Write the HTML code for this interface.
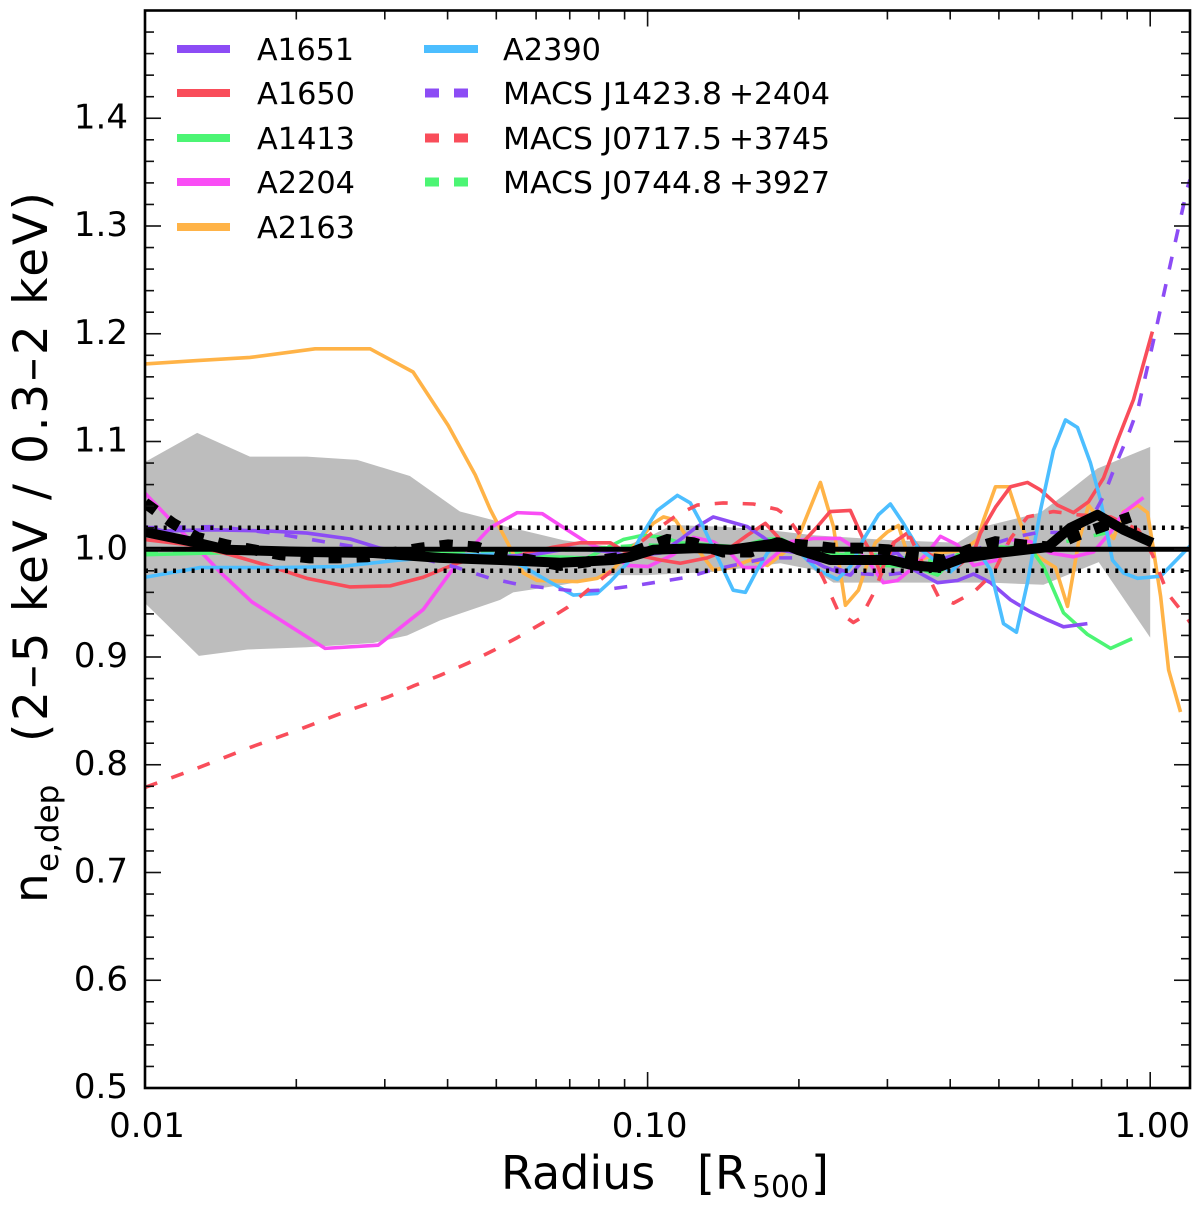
<!DOCTYPE html>
<html>
<head>
<meta charset="utf-8">
<title>Electron density deprojection ratio</title>
<style>
html,body{margin:0;padding:0;background:#fff;}
svg{display:block;}
text{font-family:"DejaVu Sans","Liberation Sans",sans-serif;fill:#000;}
</style>
</head>
<body>
<svg id="chart" xmlns="http://www.w3.org/2000/svg" width="1200" height="1211" viewBox="0 0 1200 1211">
<defs><clipPath id="plot-clip"><rect x="145" y="10.5" width="1045" height="1077.5"/></clipPath></defs>
<g id="band-layer" clip-path="url(#plot-clip)"></g>
<g id="series-layer" clip-path="url(#plot-clip)"></g>
<g id="reference-layer" clip-path="url(#plot-clip)"></g>
<g id="mean-layer" clip-path="url(#plot-clip)"></g>
<g id="tick-layer"></g>
<g id="label-layer"></g>
<rect x="145" y="10.5" width="1045" height="1077.5" fill="none" stroke="#000" stroke-width="2.6"/>

<g>
<g><line x1="177" x2="230" y1="49" y2="49" stroke="#8c4cf5" stroke-width="8"/><text x="257" y="60" font-size="30" textLength="97" lengthAdjust="spacingAndGlyphs">A1651</text></g>
<g><line x1="177" x2="230" y1="93" y2="93" stroke="#f94d5a" stroke-width="8"/><text x="257" y="104" font-size="30" textLength="98" lengthAdjust="spacingAndGlyphs">A1650</text></g>
<g><line x1="177" x2="230" y1="138" y2="138" stroke="#4cf574" stroke-width="8"/><text x="257" y="149" font-size="30" textLength="98" lengthAdjust="spacingAndGlyphs">A1413</text></g>
<g><line x1="177" x2="230" y1="182" y2="182" stroke="#f94df5" stroke-width="8"/><text x="257" y="193" font-size="30" textLength="98" lengthAdjust="spacingAndGlyphs">A2204</text></g>
<g><line x1="177" x2="230" y1="227" y2="227" stroke="#ffb347" stroke-width="8"/><text x="257" y="238" font-size="30" textLength="98" lengthAdjust="spacingAndGlyphs">A2163</text></g>
<g><line x1="424" x2="478" y1="49" y2="49" stroke="#4cbeff" stroke-width="8"/><text x="503" y="60" font-size="30" textLength="98" lengthAdjust="spacingAndGlyphs">A2390</text></g>
<g><line x1="425" x2="468" y1="93" y2="93" stroke="#8c4cf5" stroke-width="9" stroke-dasharray="14 15"/><text x="503" y="104" font-size="30" textLength="219" lengthAdjust="spacingAndGlyphs">MACS J1423.8</text><text x="729" y="104" font-size="30" textLength="101" lengthAdjust="spacingAndGlyphs">+2404</text></g>
<g><line x1="425" x2="468" y1="138" y2="138" stroke="#f94d5a" stroke-width="9" stroke-dasharray="14 15"/><text x="503" y="149" font-size="30" textLength="219" lengthAdjust="spacingAndGlyphs">MACS J0717.5</text><text x="729" y="149" font-size="30" textLength="101" lengthAdjust="spacingAndGlyphs">+3745</text></g>
<g><line x1="425" x2="468" y1="182" y2="182" stroke="#4cf574" stroke-width="9" stroke-dasharray="14 15"/><text x="503" y="193" font-size="30" textLength="219" lengthAdjust="spacingAndGlyphs">MACS J0744.8</text><text x="729" y="193" font-size="30" textLength="101" lengthAdjust="spacingAndGlyphs">+3927</text></g>
</g>

<g>
<text x="501" y="1189" font-size="46">Radius</text>
<text x="697" y="1189" font-size="46">[R</text>
<text x="752" y="1197" font-size="30" textLength="57" lengthAdjust="spacingAndGlyphs">500</text>
<text x="811" y="1189" font-size="46">]</text>
</g>
<g>
<text transform="translate(47,903) rotate(-90)" font-size="47">n</text>
<text transform="translate(58,872) rotate(-90)" font-size="31">e,dep</text>
<text transform="translate(47,742) rotate(-90)" font-size="47" textLength="550" lengthAdjust="spacing">(2–5 keV / 0.3–2 keV)</text>
</g>
</svg>

<script>
// Axis domains
const xDomain = [0.01, 1.2];
const yDomain = [0.5, 1.5];
// Tick labels
const xMajorTicks = [0.01, 0.1, 1];
const xMajorLabels = ["0.01", "0.10", "1.00"];
const xMinorTicks = [0.02, 0.03, 0.04, 0.05, 0.06, 0.07, 0.08, 0.09, 0.2, 0.3, 0.4, 0.5, 0.6, 0.7, 0.8, 0.9];
const yMajorTicks = [0.5, 0.6, 0.7, 0.8, 0.9, 1.0, 1.1, 1.2, 1.3, 1.4];
const yMajorLabels = ["0.5", "0.6", "0.7", "0.8", "0.9", "1.0", "1.1", "1.2", "1.3", "1.4"];
const yMinorTicks = [0.52,0.54,0.56,0.58,0.62,0.64,0.66,0.68,0.72,0.74,0.76,0.78,0.82,0.84,0.86,0.88,0.92,0.94,0.96,0.98,1.02,1.04,1.06,1.08,1.12,1.14,1.16,1.18,1.22,1.24,1.26,1.28,1.32,1.34,1.36,1.38,1.42,1.44,1.46,1.48];
// Reference levels
const unityLevel = 1.0;
const toleranceLevels = [1.02, 0.98];

// Scatter band
const bandUpperR = [.01,.0127,.01617,.021,.02642,.03365,.04233,.0493,.0509,.06792,.08824,.09986,.112,.1395,.1731,.2137,.3041,.4137,.4659,.6048,.6722,.7855,1.0];
const bandUpperV = [1.081,1.108,1.086,1.086,1.083,1.068,1.035,1.027,1.0225,1.0085,1.001,1.011,1.0225,1.021,1.018,1.013,1.0085,1.006,1.021,1.034,1.050,1.075,1.095];
const bandLowerR = [.01,.0128,.016,.021,.02844,.03322,.03866,.0509,.05402,.06792,.0854,.09986,.1351,.1837,.2137,.2343,.3141,.4811,.6132,.79,1.0];
const bandLowerV = [.950,.901,.907,.909,.913,.920,.934,.953,.960,.967,.976,.976,.979,.987,.981,.969,.969,.969,.967,.988,.918];

// A1651
const a1651R = [.01,.01086,.01366,.0175,.021,.0256,.02936,.03322,.04233,.05841,.07017,.0854,.0911,.1061,.1162,.1255,.1351,.1579,.17,.1837,.2013,.2237,.2385,.2532,.2688,.2905,.3141,.338,.3773,.4137,.445,.4811,.5273,.5777,.6246,.6722,.75];
const a1651V = [1.021,1.017,1.018,1.017,1.015,1.0095,1.001,.9965,.992,.9945,1.001,.9975,.993,.9965,1.009,1.021,1.030,1.021,1.011,.999,.9965,.984,.979,.976,.990,.9945,.9965,.981,.969,.971,.977,.969,.953,.942,.9345,.928,.931];
// A1650
const a1650R = [.01,.01229,.01476,.0175,.021,.0256,.03075,.03577,.04178,.04645,.05402,.0649,.07345,.08431,.0911,.1061,.1162,.1314,.144,.1579,.1715,.1837,.1986,.2177,.2308,.2532,.2688,.2839,.2905,.3084,.3286,.349,.3825,.4137,.445,.4594,.4922,.5273,.5699,.6048,.6536,.7037,.7538,.8073,.8609,.9264,1.01];
const a1650V = [1.009,1.004,.995,.985,.973,.965,.966,.974,.987,.993,.993,1.002,1.006,1.006,.9965,.990,.987,.992,.9995,1.013,1.024,1.009,1.001,1.021,1.035,1.036,1.009,.990,.978,1.006,1.015,.9995,.990,.984,.9965,1.015,1.039,1.058,1.062,1.055,1.041,1.034,1.044,1.066,1.101,1.139,1.202];
// A1413
const a1413R = [.01,.01328,.02035,.03218,.04645,.07585,.0816,.08945,.09805,.1075,.1162,.1529,.17,.1837,.1986,.2419,.261,.2905,.338,.3773,.4137,.4594,.5035,.5777,.6132,.6722,.75,.834,.9206];
const a1413V = [.995,.9965,.9975,.9975,.995,.992,.9995,1.009,1.013,1.011,1.006,1.002,1.009,1.010,1.002,.995,.995,.985,.984,.976,.995,.993,1.002,1.001,.984,.941,.921,.908,.917];
// A2204
const a2204R = [.01,.01213,.0141,.01633,.02282,.0291,.03577,.04178,.04862,.05504,.06172,.06705,.07585,.0854,.0911,.1003,.1125,.1233,.1351,.146,.1551,.1677,.1779,.1923,.2137,.2419,.2532,.2737,.2945,.3141,.3335,.3604,.3825,.4137,.445,.4967,.5273,.5777,.6331,.7037,.7712,.834,.8848,.9699];
const a2204V = [1.052,1.011,.979,.951,.908,.911,.944,.987,1.020,1.034,1.033,1.022,1.006,.995,.985,.984,.995,1.011,1.007,.9965,.983,.983,.993,1.007,1.010,1.010,1.004,.990,.969,.971,.981,.9965,1.012,1.004,.985,.990,1.009,1.007,.9965,.993,.9975,1.016,1.034,1.048];
// A2163
const a2163R = [.01,.01258,.01617,.0218,.02805,.03415,.0401,.0454,.04862,.0521,.05657,.0603,.07246,.0794,.0854,.0911,.0954,.1026,.1075,.1136,.1199,.129,.1351,.146,.1601,.1731,.1863,.1986,.2207,.2343,.2475,.2627,.2737,.2839,.3,.3155,.3303,.349,.3773,.4251,.4532,.4659,.4922,.5224,.5519,.5858,.6132,.6479,.6847,.72,.7538,.7855,.8453,.8848,.9436,.9878,1.01,1.049,1.088,1.149];
const a2163V = [1.172,1.175,1.178,1.186,1.186,1.1645,1.115,1.069,1.037,1.010,.978,.971,.970,.973,.981,.9965,1.006,1.024,1.030,1.027,1.011,.993,.981,.983,.990,.985,.9965,1.009,1.062,1.021,.948,.962,.987,1.006,1.016,1.022,.993,.990,.9965,.999,1.009,1.027,1.058,1.058,1.024,.9965,.990,.983,.947,1.006,1.041,1.030,1.010,1.035,1.041,1.034,1.006,.956,.888,.849];
// A2390
const a2390R = [.01,.01287,.01857,.02445,.03218,.04178,.0493,.05657,.06315,.07114,.0794,.08431,.0911,.0967,.1045,.1146,.1216,.129,.1376,.148,.1565,.1653,.1731,.1837,.2013,.2177,.2385,.2532,.2688,.2879,.3041,.3228,.3443,.3653,.4004,.4251,.4532,.4811,.5106,.5418,.5699,.6048,.642,.6783,.7167,.7606,.7962,.8411,.8848,.9436,1.049,1.2];
const a2390V = [.974,.983,.983,.984,.990,.9945,.9955,.984,.971,.9575,.959,.970,.987,1.011,1.036,1.050,1.043,1.021,.993,.962,.960,.981,.9965,1.009,.9965,.981,.972,.984,1.009,1.032,1.042,1.024,1.002,.993,.979,.990,.9995,.981,.931,.923,.969,1.036,1.092,1.120,1.113,1.080,1.046,.990,.978,.973,.975,1.003];
// MACS J1423.8+2404
const j1423R = [.01,.01391,.01799,.02335,.02642,.03218,.04178,.04862,.0558,.06315,.07246,.0805,.09355,.1061,.1199,.1351,.1551,.1731,.2013,.2343,.2532,.2945,.3335,.3914,.4659,.5342,.6048,.6941,.7606,.8073,.853,.9007,.9473,1.0236,1.113,1.185,1.2];
const j1423V = [1.020,1.021,1.015,1.006,1.002,.9965,.983,.973,.967,.964,.961,.962,.966,.970,.974,.981,.987,.992,.992,.983,.978,.976,.979,.992,1.002,1.011,1.016,1.015,1.027,1.049,1.078,1.104,1.132,1.201,1.278,1.335,1.343];
// MACS J0717.5+3745
const j0717R = [.01,.01258,.01617,.02035,.0256,.03046,.03415,.03866,.04377,.0493,.05504,.062,.06922,.0769,.08431,.0911,.1026,.1146,.1255,.1414,.1623,.1811,.188,.2013,.2237,.2397,.2567,.2651,.2801,.3112,.3335,.3705,.3789,.406,.445,.4877,.5273,.5699,.642,.7167,.834,.9473,1.01,1.083,1.185,1.2];
const j0717V = [.779,.796,.816,.833,.851,.863,.873,.883,.894,.906,.918,.932,.946,.964,.979,.9965,1.016,1.032,1.041,1.043,1.042,1.037,1.032,1.013,.973,.942,.932,.936,.957,1.009,1.011,.965,.956,.950,.960,.978,1.010,1.030,1.035,1.032,1.030,1.018,.995,.959,.936,.932];
// MACS J0744.8+3927
const j0744R = [.01,.01774,.03528,.0558,.09895,.1565,.2475,.3914,.6189,.8728];
const j0744V = [.9975,.9995,.9975,.9965,1.004,1.001,.9975,.988,1.003,1.018];
// Mean of all clusters (solid)
const meanSolidR = [.01,.0127,.01455,.021,.02844,.03866,.0509,.06705,.0854,.09237,.1026,.1255,.146,.1837,.1986,.2308,.3041,.338,.3773,.4251,.4967,.6246,.6941,.7855,.8848,1.01];
const meanSolidV = [1.016,1.006,.9995,.9975,.9965,.992,.990,.9875,.990,.993,.9995,1.001,.9995,1.006,.9995,.990,.990,.985,.983,.992,.9965,1.002,1.020,1.032,1.018,1.006];
// Mean of high-redshift clusters (dashed)
const meanDashedR = [.01,.01137,.0127,.01455,.01857,.02126,.02411,.02767,.03528,.0401,.04579,.0509,.06705,.08704,.09805,.1095,.1233,.1414,.1601,.1811,.2041,.2343,.2651,.3012,.3411,.3878,.4349,.4922,.5595,.6331,.7167,.8032,.9136];
const meanDashedV = [1.043,1.024,1.011,1.004,.995,.992,.992,.993,1.001,1.004,1.002,.995,.985,.992,1.001,1.009,1.006,.9975,.9975,1.006,1.004,1.001,1.001,.9995,.993,.990,.9995,1.007,1.004,1.002,1.013,1.021,1.030];

const seriesList = [
  ["series-macs-j0744", j0744R, j0744V, "#4cf574", 3.6, "13 15"],
  ["series-a2163", a2163R, a2163V, "#ffb347", 3.6, ""],
  ["series-a2204", a2204R, a2204V, "#f94df5", 3.6, ""],
  ["series-a1413", a1413R, a1413V, "#4cf574", 3.6, ""],
  ["series-a1650", a1650R, a1650V, "#f94d5a", 3.6, ""],
  ["series-a1651", a1651R, a1651V, "#8c4cf5", 3.6, ""],
  ["series-a2390", a2390R, a2390V, "#4cbeff", 3.6, ""],
  ["series-macs-j1423", j1423R, j1423V, "#8c4cf5", 3.6, "13 15"],
  ["series-macs-j0717", j0717R, j0717V, "#f94d5a", 3.6, "13 15"]
];

const NS = "http://www.w3.org/2000/svg";
const plotLeft = 145, plotRight = 1190, plotTop = 10.5, plotBottom = 1088;
function xScale(r) {
  return plotLeft + (Math.log10(r) - Math.log10(xDomain[0])) / (Math.log10(xDomain[1]) - Math.log10(xDomain[0])) * (plotRight - plotLeft);
}
function yScale(v) {
  return plotBottom - (v - yDomain[0]) / (yDomain[1] - yDomain[0]) * (plotBottom - plotTop);
}
function linePath(rs, vs) {
  return rs.map(function (r, i) { return (i ? "L" : "M") + xScale(r).toFixed(2) + " " + yScale(vs[i]).toFixed(2); }).join(" ");
}
const bandLayer = document.getElementById("band-layer");
const seriesLayer = document.getElementById("series-layer");
const referenceLayer = document.getElementById("reference-layer");
const meanLayer = document.getElementById("mean-layer");
const tickLayer = document.getElementById("tick-layer");
const labelLayer = document.getElementById("label-layer");

// Band
const bandEl = document.createElementNS(NS, "path");


bandEl.setAttribute("d", linePath(bandUpperR.concat(bandLowerR.slice().reverse()), bandUpperV.concat(bandLowerV.slice().reverse())) + " Z");
bandEl.setAttribute("fill", "#bdbdbd");
bandLayer.appendChild(bandEl);

// Series
seriesList.forEach(function (s) {
  const el = document.createElementNS(NS, "path");
  
  
  el.setAttribute("d", linePath(s[1], s[2]));
  el.setAttribute("fill", "none");
  el.setAttribute("stroke", s[3]);
  el.setAttribute("stroke-width", s[4]);
  el.setAttribute("stroke-linejoin", "round");
  if (s[5]) el.setAttribute("stroke-dasharray", s[5]);
  seriesLayer.appendChild(el);
});

// Reference lines
const unityEl = document.createElementNS(NS, "line");


unityEl.setAttribute("x1", plotLeft);
unityEl.setAttribute("x2", plotRight);
unityEl.setAttribute("y1", yScale(unityLevel));
unityEl.setAttribute("y2", yScale(unityLevel));
unityEl.setAttribute("stroke", "#000");
unityEl.setAttribute("stroke-width", 5);
referenceLayer.appendChild(unityEl);
toleranceLevels.forEach(function (lv) {
  const el = document.createElementNS(NS, "line");
  
  
  el.setAttribute("x1", plotLeft);
  el.setAttribute("x2", plotRight);
  el.setAttribute("y1", yScale(lv));
  el.setAttribute("y2", yScale(lv));
  el.setAttribute("stroke", "#000");
  el.setAttribute("stroke-width", 4.5);
  el.setAttribute("stroke-dasharray", "3 6.33");
  referenceLayer.appendChild(el);
});

// Mean lines
const meanSolidEl = document.createElementNS(NS, "path");


meanSolidEl.setAttribute("d", linePath(meanSolidR, meanSolidV));
meanSolidEl.setAttribute("fill", "none");
meanSolidEl.setAttribute("stroke", "#000");
meanSolidEl.setAttribute("stroke-width", 10);
meanSolidEl.setAttribute("stroke-linejoin", "round");
meanLayer.appendChild(meanSolidEl);
const meanDashedEl = document.createElementNS(NS, "path");


meanDashedEl.setAttribute("d", linePath(meanDashedR, meanDashedV));
meanDashedEl.setAttribute("fill", "none");
meanDashedEl.setAttribute("stroke", "#000");
meanDashedEl.setAttribute("stroke-width", 11);
meanDashedEl.setAttribute("stroke-dasharray", "13 15");
meanLayer.appendChild(meanDashedEl);

// Ticks
function addTick(x1, y1, x2, y2) {
  const el = document.createElementNS(NS, "line");
  
  
  el.setAttribute("x1", x1);
  el.setAttribute("y1", y1);
  el.setAttribute("x2", x2);
  el.setAttribute("y2", y2);
  el.setAttribute("stroke", "#111");
  el.setAttribute("stroke-width", 1.6);
  tickLayer.appendChild(el);
}
function addXTicks(values, len) {
  values.forEach(function (r) {
    const x = xScale(r);
    addTick(x, plotBottom, x, plotBottom - len);
    addTick(x, plotTop, x, plotTop + len);
  });
}
function addYTicks(values, len) {
  values.forEach(function (v) {
    const y = yScale(v);
    addTick(plotLeft, y, plotLeft + len, y);
    addTick(plotRight, y, plotRight - len, y);
  });
}
addXTicks(xMajorTicks, 16);
addXTicks(xMinorTicks, 9);
addYTicks(yMajorTicks, 16);
addYTicks(yMinorTicks, 9);

// Tick labels
xMajorTicks.forEach(function (r, i) {
  const el = document.createElementNS(NS, "text");
  
  
  el.setAttribute("x", xScale(r) + 2);
  el.setAttribute("y", 1137);
  el.setAttribute("font-size", 34);
  el.setAttribute("text-anchor", "middle");
  el.textContent = xMajorLabels[i];
  labelLayer.appendChild(el);
});
yMajorTicks.forEach(function (v, i) {
  const el = document.createElementNS(NS, "text");
  
  
  el.setAttribute("x", 128);
  el.setAttribute("y", yScale(v) + 10);
  el.setAttribute("font-size", 34);
  el.setAttribute("text-anchor", "end");
  el.textContent = yMajorLabels[i];
  labelLayer.appendChild(el);
});
</script>
</body>
</html>
